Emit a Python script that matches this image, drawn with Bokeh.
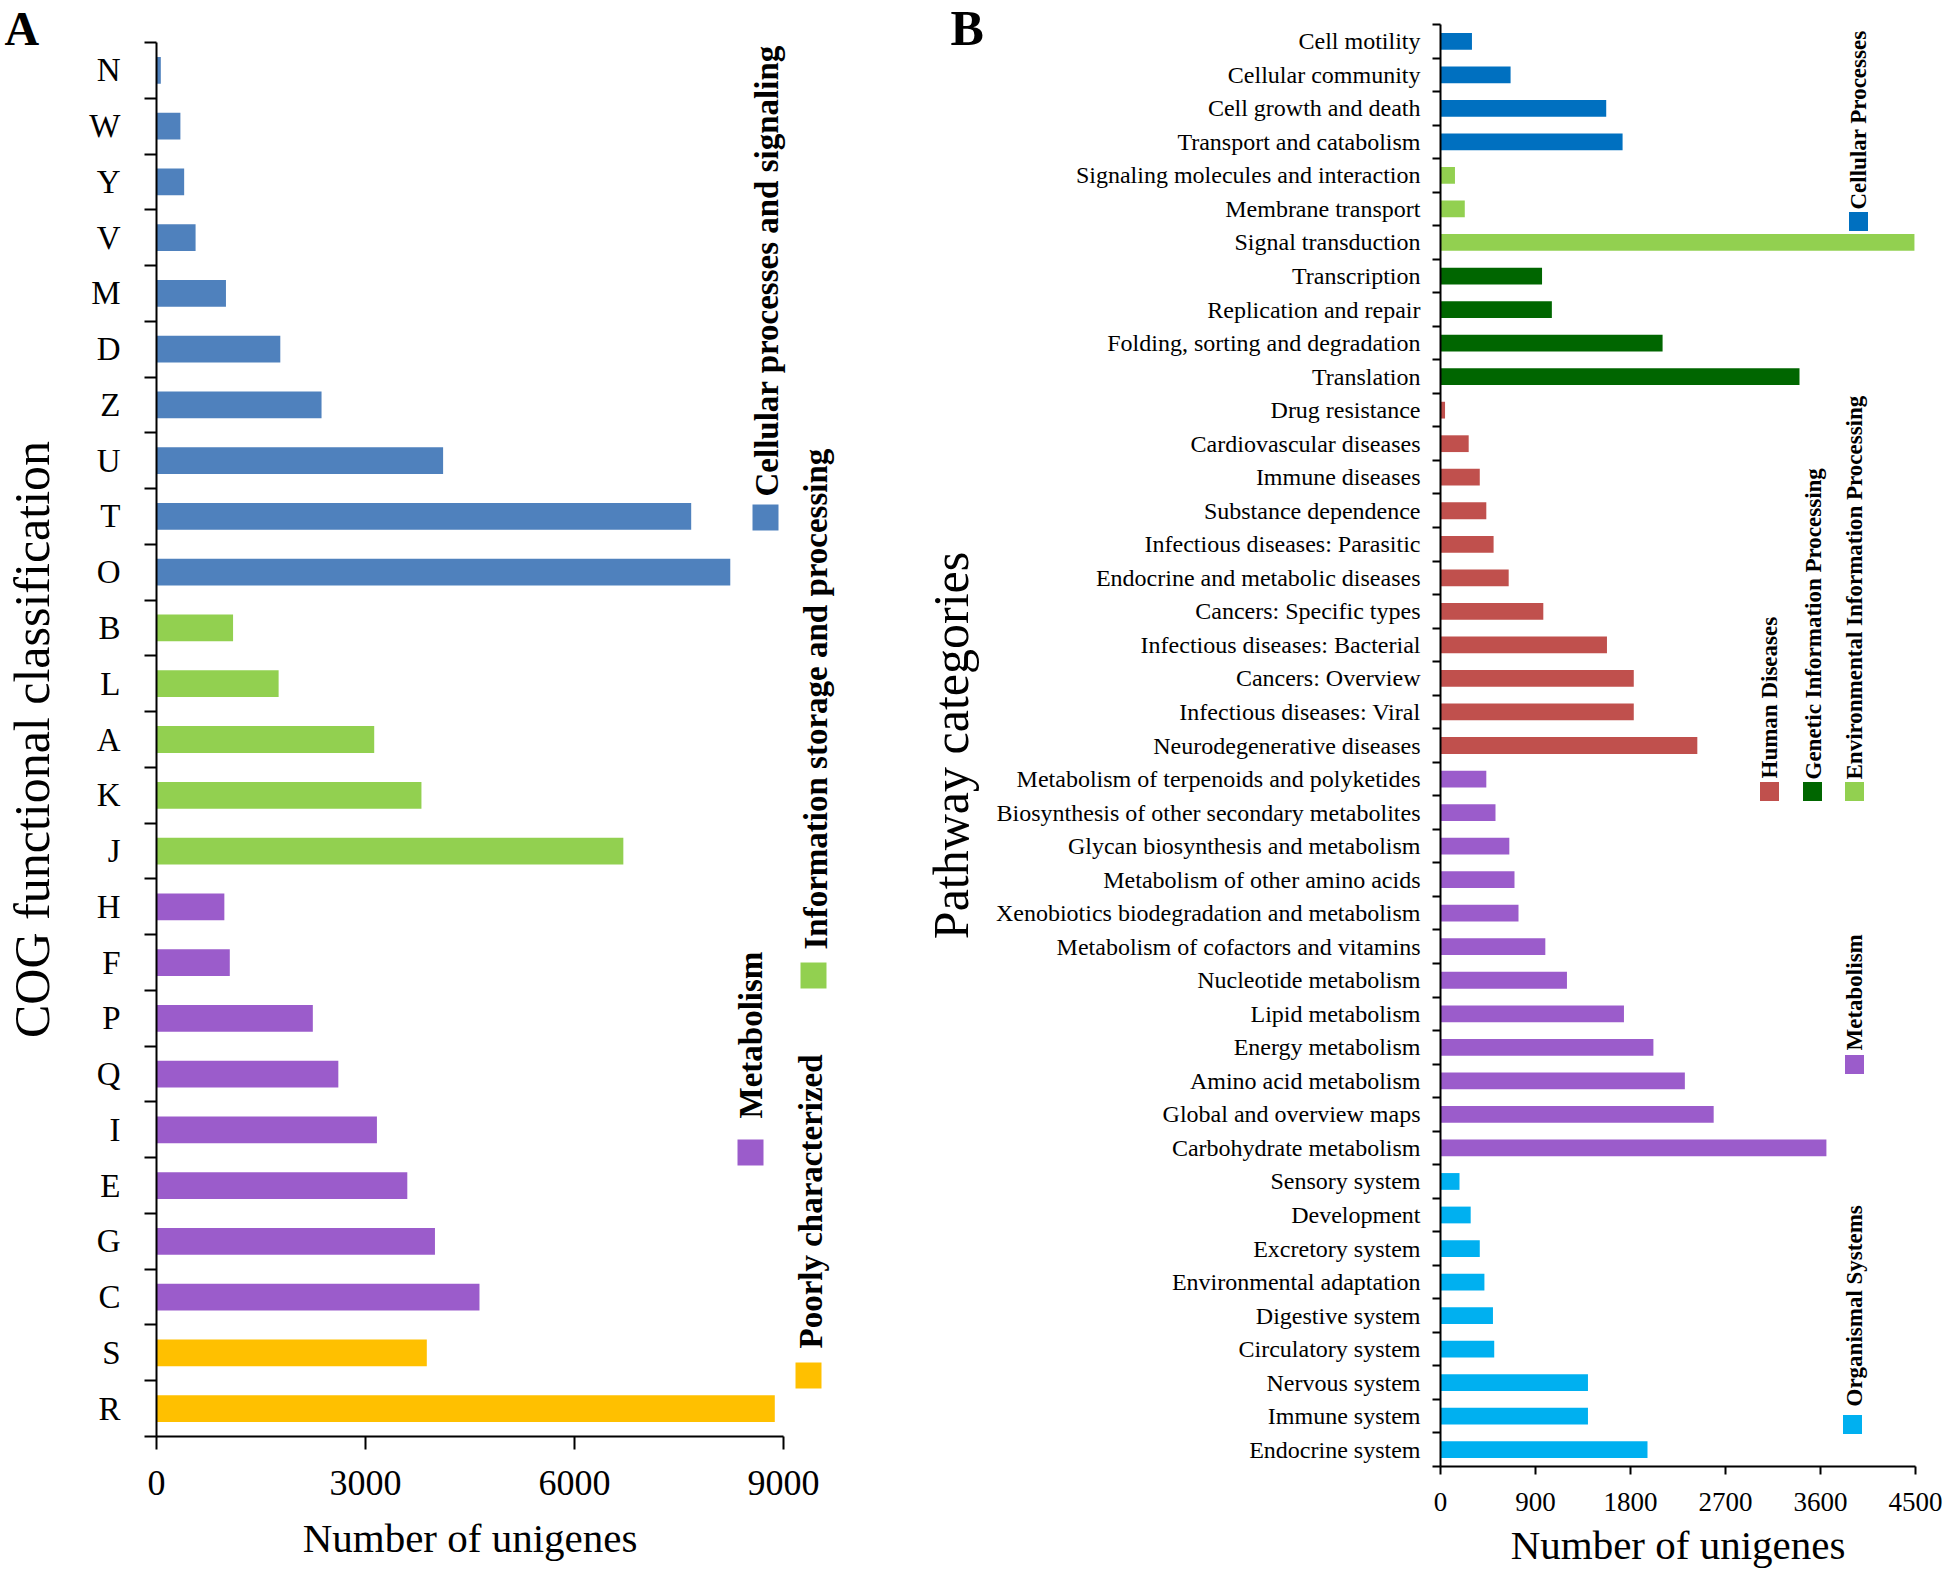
from bokeh.plotting import figure
from bokeh.models import ColumnDataSource, Range1d, FixedTicker, Label, BoxAnnotation
from bokeh.layouts import row
from bokeh.embed import file_html
from bokeh.resources import INLINE
import math

# ---------------- Panel A data (COG) ----------------
cog_letters = ["N", "W", "Y", "V", "M", "D", "Z", "U", "T", "O",
               "B", "L", "A", "K", "J",
               "H", "F", "P", "Q", "I", "E", "G", "C",
               "S", "R"]
cog_counts = [62, 343, 397, 561, 997, 1777, 2369, 4114, 7675, 8236,
              1099, 1753, 3125, 3803, 6701,
              974, 1052, 2244, 2610, 3164, 3600, 3997, 4636,
              3880, 8875]
cog_groups = (["Cellular processes and signaling"] * 10
              + ["Information storage and processing"] * 5
              + ["Metabolism"] * 8
              + ["Poorly characterized"] * 2)
cog_ticks = [0, 3000, 6000, 9000]

# ---------------- Panel B data (KEGG) ----------------
kegg_pathways = [
    "Cell motility", "Cellular community", "Cell growth and death", "Transport and catabolism",
    "Signaling molecules and interaction", "Membrane transport", "Signal transduction",
    "Transcription", "Replication and repair", "Folding, sorting and degradation", "Translation",
    "Drug resistance", "Cardiovascular diseases", "Immune diseases", "Substance dependence",
    "Infectious diseases: Parasitic", "Endocrine and metabolic diseases", "Cancers: Specific types",
    "Infectious diseases: Bacterial", "Cancers: Overview", "Infectious diseases: Viral",
    "Neurodegenerative diseases",
    "Metabolism of terpenoids and polyketides", "Biosynthesis of other secondary metabolites",
    "Glycan biosynthesis and metabolism", "Metabolism of other amino acids",
    "Xenobiotics biodegradation and metabolism", "Metabolism of cofactors and vitamins",
    "Nucleotide metabolism", "Lipid metabolism", "Energy metabolism", "Amino acid metabolism",
    "Global and overview maps", "Carbohydrate metabolism",
    "Sensory system", "Development", "Excretory system", "Environmental adaptation",
    "Digestive system", "Circulatory system", "Nervous system", "Immune system", "Endocrine system",
]
kegg_counts = [
    298, 664, 1570, 1725,
    137, 230, 4490,
    962, 1055, 2104, 3401,
    43, 267, 372, 434, 503, 646, 974, 1577, 1831, 1831, 2433,
    434, 521, 652, 701, 739, 993, 1198, 1738, 2017, 2315, 2588, 3656,
    180, 286, 372, 416, 497, 509, 1397, 1397, 1961,
]
kegg_groups = (["Cellular Processes"] * 4
               + ["Environmental Information Processing"] * 3
               + ["Genetic Information Processing"] * 4
               + ["Human Diseases"] * 11
               + ["Metabolism"] * 12
               + ["Organismal Systems"] * 9)
kegg_ticks = [0, 900, 1800, 2700, 3600, 4500]

# ---------------- styles / layout constants ----------------
FONT = "Liberation Serif"
cog_colors = {
    "Cellular processes and signaling": "#4F81BD",
    "Information storage and processing": "#92D050",
    "Metabolism": "#9B5CCB",
    "Poorly characterized": "#FFC000",
}
kegg_colors = {
    "Cellular Processes": "#0070C0",
    "Environmental Information Processing": "#92D050",
    "Genetic Information Processing": "#006600",
    "Human Diseases": "#C0504D",
    "Metabolism": "#9B5CCB",
    "Organismal Systems": "#00B0F0",
}
PAGE_H = 1569


def make_panel(width, x0_px, x_end_px, x_end_val, cat_top_px, cat_bot_px, n):
    """Figure whose frame is the whole canvas; axes sit at fixed data locations."""
    px_per_unit = (x_end_px - x0_px) / x_end_val
    band = (cat_bot_px - cat_top_px) / n
    x_range = Range1d(-x0_px / px_per_unit, (width - x0_px) / px_per_unit)
    y_range = Range1d(n - 0.5 + (PAGE_H - cat_bot_px) / band, -0.5 - cat_top_px / band)
    p = figure(width=width, height=PAGE_H, title=None, x_range=x_range, y_range=y_range,
               output_backend="svg", toolbar_location=None, min_border=0,
               min_border_left=0, min_border_right=0, min_border_top=0, min_border_bottom=0)
    p.xgrid.visible = False
    p.ygrid.visible = False
    p.outline_line_color = None
    p.background_fill_color = "white"
    p.border_fill_color = "white"
    for ax in (p.xaxis[0], p.yaxis[0]):
        ax.axis_line_color = "black"
        ax.axis_line_width = 2
        ax.major_tick_line_color = "black"
        ax.major_tick_line_width = 2
        ax.minor_tick_line_color = "black"
        ax.minor_tick_line_width = 2
        ax.major_tick_in = 0
        ax.minor_tick_in = 0
        ax.minor_tick_out = 0
        ax.major_label_text_font = FONT
        ax.major_label_text_color = "black"
        ax.axis_label_text_font = FONT
        ax.axis_label_text_font_style = "normal"
        ax.axis_label_text_color = "black"
    xa, ya = p.xaxis[0], p.yaxis[0]
    xa.fixed_location = n - 0.5
    xa.bounds = (0, x_end_val)
    ya.fixed_location = 0
    ya.bounds = (-0.5, n - 0.5)
    ya.ticker = FixedTicker(ticks=list(range(n)), minor_ticks=[i - 0.5 for i in range(n + 1)])
    ya.major_tick_out = 0
    return p


def rotated_legend(p, text, x, y_bottom, font_size):
    """x, y in screen px relative to the frame's left/bottom."""
    p.add_layout(Label(x=x, y=y_bottom, x_units="screen", y_units="screen", text=text,
                       angle=math.pi / 2, text_align="left", text_baseline="middle",
                       text_font=FONT, text_font_style="bold", text_font_size=font_size,
                       text_color="black"))


def legend_box(p, cx, cy, size, color):
    h = size / 2
    p.add_layout(BoxAnnotation(left=cx - h, right=cx + h, bottom=cy - h, top=cy + h,
                               left_units="screen", right_units="screen",
                               bottom_units="screen", top_units="screen",
                               fill_color=color, fill_alpha=1, line_color=None))


def panel_letter(p, letter, x, baseline_y, size):
    p.add_layout(Label(x=x, y=PAGE_H - baseline_y, x_units="screen", y_units="screen",
                       text=letter, text_align="left", text_baseline="alphabetic",
                       text_font=FONT, text_font_style="bold", text_font_size=size,
                       text_color="black"))


# ================= Panel A =================
A_W = 900
n_a = len(cog_letters)
pA = make_panel(A_W, 156, 783, cog_ticks[-1], 42, 1436, n_a)
src_a = ColumnDataSource(dict(y=list(range(n_a)), v=cog_counts,
                              c=[cog_colors[g] for g in cog_groups]))
pA.hbar(y="y", left=0, right="v", height=0.48, fill_color="c", line_color=None, source=src_a)

xa = pA.xaxis[0]
xa.ticker = FixedTicker(ticks=cog_ticks)
xa.major_tick_out = 13
xa.major_label_text_font_size = "36px"
xa.major_label_standoff = 21
xa.axis_label = "Number of unigenes"
xa.axis_label_text_font_size = "41px"
xa.axis_label_standoff = 17

ya = pA.yaxis[0]
ya.major_label_overrides = {i: s for i, s in enumerate(cog_letters)}
ya.minor_tick_out = 12
ya.major_label_text_font_size = "33px"
ya.major_label_standoff = 24
ya.axis_label = "COG functional classification"
ya.axis_label_text_font_size = "50px"
ya.axis_label_standoff = 26

for text, tx, tb, mx, my in [
    ("Cellular processes and signaling", 766, 496, 765, 517),
    ("Information storage and processing", 815, 949, 813, 975),
    ("Metabolism", 750, 1118, 750, 1152),
    ("Poorly characterized", 810, 1348, 808, 1375),
]:
    rotated_legend(pA, text, tx, PAGE_H - tb, "33px")
    legend_box(pA, mx, PAGE_H - my, 26, cog_colors[text])
panel_letter(pA, "A", 4, 28, "48px")

# ================= Panel B =================
B_X0, B_W = 900, 1046
n_b = len(kegg_pathways)
pB = make_panel(B_W, 1440 - B_X0, 1915 - B_X0, kegg_ticks[-1], 24, 1466, n_b)
src_b = ColumnDataSource(dict(y=list(range(n_b)), v=kegg_counts,
                              c=[kegg_colors[g] for g in kegg_groups]))
pB.hbar(y="y", left=0, right="v", height=0.5, fill_color="c", line_color=None, source=src_b)

xb = pB.xaxis[0]
xb.ticker = FixedTicker(ticks=kegg_ticks)
xb.major_tick_out = 8
xb.major_label_text_font_size = "27px"
xb.major_label_standoff = 18
xb.axis_label = "Number of unigenes"
xb.axis_label_text_font_size = "41px"
xb.axis_label_standoff = 8

yb = pB.yaxis[0]
yb.major_label_overrides = {i: s for i, s in enumerate(kegg_pathways)}
yb.minor_tick_out = 8
yb.major_label_text_font_size = "24px"
yb.major_label_standoff = 12
yb.axis_label = "Pathway categories"
yb.axis_label_text_font_size = "50px"
yb.axis_label_standoff = 14

for text, tx, tb, mx, my in [
    ("Cellular Processes", 1858, 209, 1858, 221),
    ("Human Diseases", 1769, 778, 1769, 791),
    ("Genetic Information Processing", 1813, 779, 1812, 791),
    ("Environmental Information Processing", 1854, 779, 1854, 791),
    ("Metabolism", 1854, 1050, 1854, 1064),
    ("Organismal Systems", 1854, 1406, 1852, 1424),
]:
    rotated_legend(pB, text, tx - B_X0, PAGE_H - tb, "23px")
    legend_box(pB, mx - B_X0, PAGE_H - my, 19, kegg_colors[text])
panel_letter(pB, "B", 950 - B_X0, 27, "50px")

layout = row(pA, pB, spacing=0)
open("out.html", "w").write(file_html(layout, INLINE))
